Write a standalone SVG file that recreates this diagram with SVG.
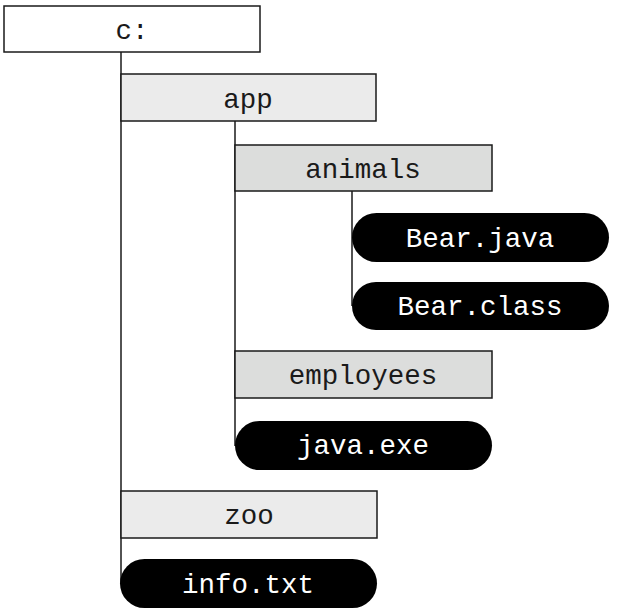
<svg xmlns="http://www.w3.org/2000/svg" width="617" height="614" viewBox="0 0 617 614">
<style>
.box{stroke:#1a1a1a;stroke-width:1.5}
.root{fill:#ffffff}
.l1{fill:#ebebeb}
.l2{fill:#dcdddc}
.file{fill:#000000}
.t{font-family:"Liberation Mono","Courier New",monospace;font-size:27.5px;text-anchor:middle;fill:#1a1a1a}
.tf{fill:#ffffff}
.conn{stroke:#1a1a1a;stroke-width:1.5;fill:none}
</style>
<g id="connectors">
<line class="conn" x1="121" y1="52" x2="121" y2="584"/>
<line class="conn" x1="235" y1="121" x2="235" y2="446"/>
<line class="conn" x1="352" y1="191" x2="352" y2="306"/>
</g>
<g id="c"><rect class="box root" x="4" y="6" width="256" height="46"/><text class="t" x="132" y="39">c:</text></g>
<g id="app"><rect class="box l1" x="121" y="74" width="255" height="47"/><text class="t" x="248" y="108">app</text></g>
<g id="animals"><rect class="box l2" x="235" y="145" width="257" height="46"/><text class="t" x="363" y="178">animals</text></g>
<g id="bearjava"><rect class="file" x="352" y="213" width="257" height="49" rx="24.5"/><text class="t tf" x="480" y="247">Bear.java</text></g>
<g id="bearclass"><rect class="file" x="352" y="282" width="257" height="48" rx="24"/><text class="t tf" x="480" y="315">Bear.class</text></g>
<g id="employees"><rect class="box l2" x="235" y="351" width="257" height="47"/><text class="t" x="363" y="384">employees</text></g>
<g id="javaexe"><rect class="file" x="235" y="421" width="257" height="49" rx="24.5"/><text class="t tf" x="363" y="454">java.exe</text></g>
<g id="zoo"><rect class="box l1" x="121" y="491" width="256" height="47"/><text class="t" x="249" y="524">zoo</text></g>
<g id="infotxt"><rect class="file" x="120" y="559" width="257" height="49" rx="24.5"/><text class="t tf" x="248" y="593">info.txt</text></g>
</svg>
